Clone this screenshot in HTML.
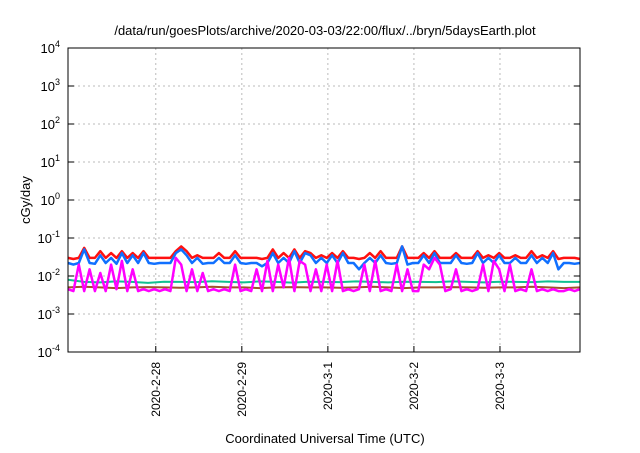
<!DOCTYPE html>
<html><head><meta charset="utf-8"><style>
body{margin:0;background:#fff;}
svg text{font-family:"Liberation Sans",sans-serif;fill:#000;}
</style></head><body>
<svg width="640" height="448" viewBox="0 0 640 448">
<text x="325" y="35" text-anchor="middle" font-size="13">/data/run/goesPlots/archive/2020-03-03/22:00/flux/../bryn/5daysEarth.plot</text>
<text transform="translate(30,200) rotate(-90)" text-anchor="middle" font-size="13">cGy/day</text>
<text x="325" y="443" text-anchor="middle" font-size="13">Coordinated Universal Time (UTC)</text>
<g id="grid"></g><g id="series"></g><g id="axes"></g>
</svg>
<script>
const yTickExps=[-4,-3,-2,-1,0,1,2,3,4];
const xTickLabels=["2020-2-28","2020-2-29","2020-3-1","2020-3-2","2020-3-3"];
const xTickDays=[1,2,3,4,5];
const magenta=[0.0045,0.004,0.02,0.004,0.015,0.004,0.012,0.004,0.02,0.0045,0.025,0.004,0.015,0.004,0.0045,0.004,0.0045,0.004,0.0045,0.004,0.03,0.02,0.004,0.015,0.004,0.012,0.004,0.0045,0.004,0.0045,0.004,0.02,0.004,0.0045,0.004,0.015,0.004,0.025,0.004,0.02,0.005,0.03,0.004,0.025,0.02,0.004,0.015,0.004,0.02,0.004,0.025,0.004,0.0045,0.004,0.0045,0.02,0.004,0.025,0.004,0.0045,0.004,0.02,0.004,0.015,0.004,0.004,0.02,0.015,0.03,0.02,0.004,0.0045,0.015,0.004,0.0045,0.004,0.0045,0.02,0.004,0.025,0.015,0.004,0.02,0.004,0.0045,0.004,0.015,0.004,0.0045,0.004,0.0045,0.004,0.004,0.0045,0.004,0.0045];
const brown=[0.005,0.0052,0.005,0.0048,0.005,0.0051,0.005,0.0049,0.005,0.0052,0.005,0.005,0.0048,0.005,0.0051,0.005,0.005,0.0049,0.005,0.0052,0.005,0.0048,0.005,0.005,0.0051,0.005,0.0049,0.005,0.005,0.0052,0.005,0.0048,0.005];
const teal=[0.008,0.007,0.0068,0.0072,0.007,0.0066,0.0071,0.007,0.0069,0.0073,0.007,0.0068,0.0072,0.007,0.0067,0.0071,0.007,0.0069,0.0072,0.007,0.0068,0.0071,0.007,0.0069,0.0072,0.007,0.0068,0.0071,0.007,0.0069,0.0072,0.007,0.007];
const blue=[0.022,0.02,0.022,0.05,0.022,0.021,0.035,0.022,0.03,0.021,0.04,0.022,0.035,0.022,0.04,0.022,0.021,0.022,0.022,0.022,0.04,0.05,0.035,0.022,0.03,0.021,0.022,0.022,0.03,0.022,0.022,0.035,0.022,0.021,0.022,0.022,0.018,0.022,0.04,0.022,0.03,0.022,0.045,0.022,0.04,0.035,0.022,0.03,0.022,0.035,0.022,0.04,0.022,0.022,0.015,0.022,0.03,0.022,0.035,0.022,0.021,0.022,0.06,0.02,0.022,0.022,0.035,0.022,0.04,0.022,0.022,0.022,0.035,0.022,0.021,0.022,0.04,0.022,0.03,0.022,0.035,0.022,0.022,0.03,0.022,0.022,0.035,0.022,0.03,0.022,0.04,0.015,0.022,0.022,0.021,0.022];
const red=[0.03,0.028,0.03,0.055,0.03,0.03,0.045,0.03,0.04,0.03,0.045,0.03,0.04,0.03,0.045,0.03,0.03,0.03,0.03,0.03,0.045,0.06,0.045,0.03,0.035,0.03,0.03,0.03,0.04,0.03,0.03,0.045,0.03,0.03,0.03,0.03,0.028,0.03,0.05,0.03,0.04,0.03,0.05,0.03,0.045,0.04,0.03,0.035,0.03,0.04,0.03,0.045,0.03,0.03,0.028,0.03,0.04,0.03,0.045,0.03,0.03,0.03,0.06,0.03,0.03,0.03,0.04,0.03,0.045,0.03,0.03,0.03,0.04,0.03,0.03,0.03,0.045,0.03,0.035,0.03,0.04,0.03,0.03,0.035,0.03,0.03,0.045,0.03,0.035,0.03,0.045,0.028,0.03,0.03,0.03,0.028];
const L=68,R=580,T=48,B=352,day0=-0.02,day1=5.93;
const xS=d=>L+(d-day0)/(day1-day0)*(R-L);
const yS=v=>B-(Math.log10(v)+4)/8*(B-T);
const NS="http://www.w3.org/2000/svg";
function mk(tag,attrs,parent){const e=document.createElementNS(NS,tag);for(const k in attrs)e.setAttribute(k,attrs[k]);parent.appendChild(e);return e;}
const grid=document.getElementById('grid'),axes=document.getElementById('axes'),ser=document.getElementById('series');
yTickExps.forEach(p=>{const y=yS(Math.pow(10,p));
 if(p>-4&&p<4){const g=mk('line',{x1:L,x2:R,y1:y,y2:y,stroke:'#bbb','stroke-dasharray':'2,3'},grid);
 
 }
 const t=mk('line',{x1:L,x2:L+6,y1:y,y2:y,stroke:'#000'},axes);
 
 
 const t2=mk('line',{x1:R-6,x2:R,y1:y,y2:y,stroke:'#000'},axes);
 
 
 const tx=mk('text',{x:L-8,y:y+5,'text-anchor':'end','font-size':'13'},axes);
 
 
 tx.appendChild(document.createTextNode('10'));
 const sp=mk('tspan',{dy:-6,'font-size':'9'},tx);sp.textContent=String(p);
});
xTickDays.forEach((d,i)=>{const x=xS(d);
 const g=mk('line',{x1:x,x2:x,y1:T,y2:B,stroke:'#bbb','stroke-dasharray':'2,3'},grid);
 
 
 const t=mk('line',{x1:x,x2:x,y1:B-6,y2:B,stroke:'#000'},axes);
 
 
 const tx=mk('text',{transform:`translate(${x+4},362) rotate(-90)`,'text-anchor':'end','font-size':'12'},axes);
 
 
 tx.textContent=xTickLabels[i];
});
const fr=mk('rect',{x:L,y:T,width:R-L,height:B-T,fill:'none',stroke:'#000','stroke-width':1},axes);


const seriesList=[[red,'#ff1010',2.5,'red-series'],[blue,'#1070ff',2.5,'blue-series'],[teal,'#10c090',2,'teal-series'],[brown,'#a0522d',2,'brown-series'],[magenta,'#ff00ff',2.5,'magenta-series']];
seriesList.forEach(([arr,c,w,n])=>{
 const pts=arr.map((v,i)=>xS(day0+(day1-day0)*i/(arr.length-1)).toFixed(1)+','+yS(v).toFixed(1)).join(' ');
 const pl=mk('polyline',{points:pts,fill:'none',stroke:c,'stroke-width':w,'stroke-linejoin':'round'},ser);
 
 
});
</script>
</body></html>
